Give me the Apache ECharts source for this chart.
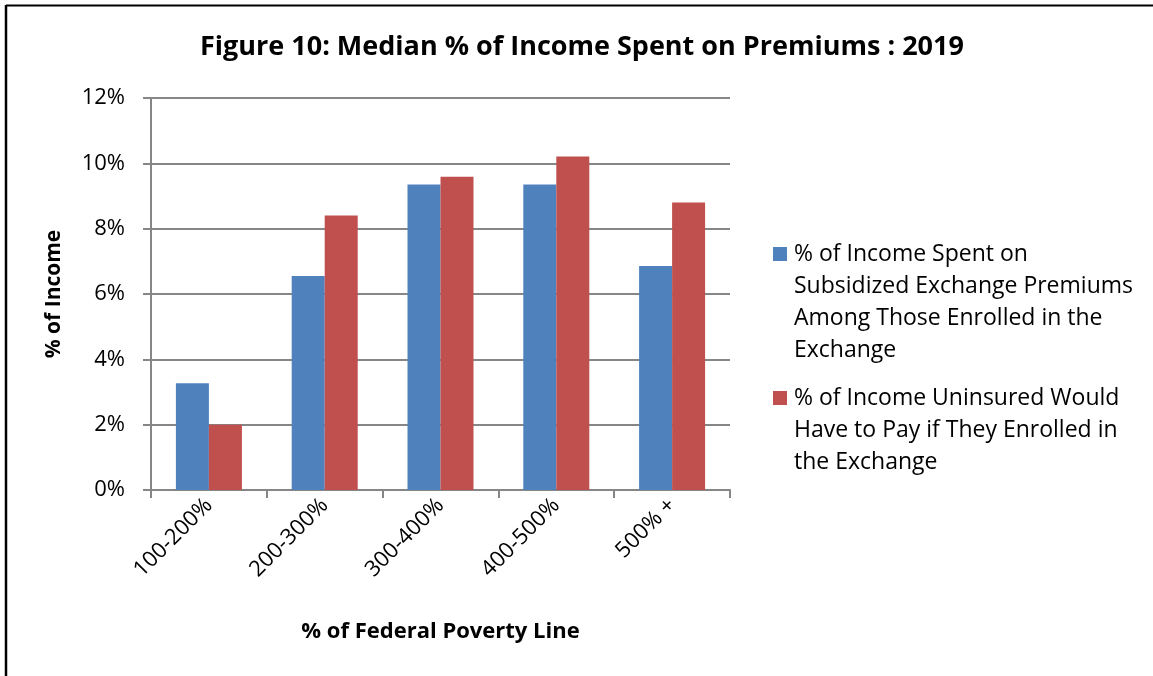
<!DOCTYPE html>
<html>
<head>
<meta charset="utf-8">
<script src="https://cdn.jsdelivr.net/npm/echarts@6/dist/echarts.min.js"></script>
<style>
html,body{margin:0;padding:0;background:#fff;}
#chart{width:1153px;height:676px;}
</style>
</head>
<body>
<div id="chart"></div>
<script>
const categories = ['100-200%', '200-300%', '300-400%', '400-500%', '500% +'];
const enrolledValues = [3.27, 6.55, 9.35, 9.35, 6.86];
const uninsuredValues = [2.0, 8.40, 9.59, 10.21, 8.80];
const yTicks = [0, 2, 4, 6, 8, 10, 12];
const seriesNames = [
  '% of Income Spent on Subsidized Exchange Premiums Among Those Enrolled in the Exchange',
  '% of Income Uninsured Would Have to Pay if They Enrolled in the Exchange'
];
const legendLines = [
  ['% of Income Spent on', 'Subsidized Exchange Premiums', 'Among Those Enrolled in the', 'Exchange'],
  ['% of Income Uninsured Would', 'Have to Pay if They Enrolled in', 'the Exchange']
];
const seriesColors = ['#4F81BD', '#C0504D'];
const titleText = 'Figure 10: Median % of Income Spent on Premiums : 2019';
const xAxisTitle = '% of Federal Poverty Line';
const yAxisTitle = '% of Income';

const FONT = 'Open Sans';
const gridColor = '#868686';
const LH = 32;

const chart = echarts.init(document.getElementById('chart'), null, {renderer: 'canvas'});

// legend drawn as graphic elements so the swatch sits beside the first text line
const legendFirstLineY = [254, 398];
const legendGraphics = [];
legendLines.forEach(function (lines, i) {
  const cy = legendFirstLineY[i];
  legendGraphics.push({
    type: 'rect', left: 773, top: cy - 7,
    shape: {width: 14, height: 14},
    style: {fill: seriesColors[i]}
  });
  legendGraphics.push({
    type: 'text', x: 794, y: cy - LH / 2,
    style: {text: lines.join('\n'), fontFamily: FONT, fontSize: 23, lineHeight: LH,
      fill: '#000', verticalAlign: 'top', align: 'left'}
  });
});

chart.setOption({
  animation: false,
  backgroundColor: '#fff',
  title: {
    text: titleText,
    left: 195,
    top: 29,
    textStyle: {fontFamily: FONT, fontWeight: 'bold', fontSize: 27, color: '#000'}
  },
  graphic: [
    {type: 'line', shape: {x1: 6, y1: 5.5, x2: 1153, y2: 5.5}, style: {stroke: '#000', lineWidth: 2}},
    {type: 'line', shape: {x1: 6, y1: 5, x2: 6, y2: 676}, style: {stroke: '#000', lineWidth: 2.5}}
  ].concat(legendGraphics),
  legend: {show: false, data: seriesNames},
  grid: {left: 151, right: 423, top: 98, bottom: 186, containLabel: false},
  xAxis: {
    type: 'category',
    data: categories,
    name: xAxisTitle,
    nameLocation: 'middle',
    nameGap: 131,
    nameTextStyle: {fontFamily: FONT, fontWeight: 'bold', fontSize: 22, color: '#000'},
    axisLine: {lineStyle: {color: gridColor, width: 2}},
    axisTick: {show: true, length: 8, lineStyle: {color: gridColor, width: 2}},
    axisLabel: {rotate: 45, margin: 12, fontFamily: FONT, fontSize: 22, color: '#000'}
  },
  yAxis: {
    type: 'value',
    min: 0,
    max: 12,
    interval: 2,
    name: yAxisTitle,
    nameLocation: 'middle',
    nameGap: 86,
    nameTextStyle: {fontFamily: FONT, fontWeight: 'bold', fontSize: 21, color: '#000'},
    axisLine: {show: true, lineStyle: {color: gridColor, width: 2}},
    axisTick: {show: true, length: 8, lineStyle: {color: gridColor, width: 2}},
    splitLine: {show: true, lineStyle: {color: gridColor, width: 2}},
    axisLabel: {margin: 26, fontFamily: FONT, fontSize: 22, color: '#000',
      formatter: function (v) { return yTicks.indexOf(v) >= 0 ? v + '%' : ''; }}
  },
  series: [
    {name: seriesNames[0], type: 'bar', data: enrolledValues, itemStyle: {color: seriesColors[0]},
     barGap: '0%', barCategoryGap: '43%'},
    {name: seriesNames[1], type: 'bar', data: uninsuredValues, itemStyle: {color: seriesColors[1]},
     barGap: '0%', barCategoryGap: '43%'}
  ]
});
</script>
</body>
</html>
